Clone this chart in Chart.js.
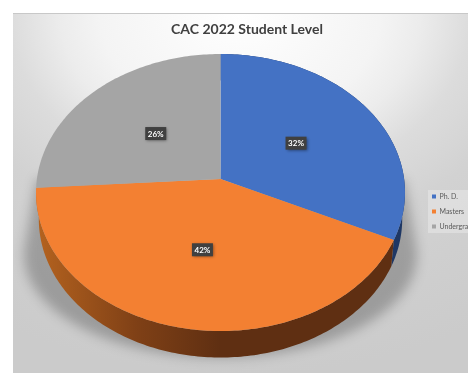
<!DOCTYPE html>
<html>
<head>
<meta charset="utf-8">
<title>CAC 2022 Student Level</title>
<script src="https://cdn.jsdelivr.net/npm/chart.js@4"></script>
<style>
  html, body { margin: 0; padding: 0; background: #fff; width: 468px; height: 373px; overflow: hidden; }
  #frame { position: absolute; left: 13px; top: 13px; width: 468px; height: 360px; }
  canvas { display: block; }
</style>
</head>
<body>
<div id="frame"><canvas id="chart" width="468" height="360"></canvas></div>
<script>
const categories = ['Ph. D.', 'Masters', 'Undergraduate'];
const shares = [32, 42, 26];
const sliceColors = ['#4472C4', '#F38032', '#A5A5A5'];
const titleText = 'CAC 2022 Student Level';

// Perspective view of the pie disc, in canvas coordinates.
const view = { cx: 207.5, cy: 166, rx: 183.6, ry: 137.2, tilt: 0.0975, depth: 26.5, inset: 0.985 };
const legendBox = { left: 415, top: 177, width: 60, height: 43 };

function project(angle, f) {
  const u = Math.cos(angle) * f, v = Math.sin(angle) * f;
  const w = 1 - view.tilt * v;
  return { x: view.cx + view.rx * u / w, y: view.cy + view.ry * v / w };
}
function lower(p) {
  return { x: view.cx + (p.x - view.cx) * view.inset, y: p.y + view.depth };
}
function rim(a0, a1) {
  const pts = [], n = Math.max(2, Math.ceil(Math.abs(a1 - a0) * 60));
  for (let i = 0; i <= n; i++) pts.push(project(a0 + (a1 - a0) * i / n, 1));
  return pts;
}
function trace(ctx, pts) {
  ctx.beginPath();
  pts.forEach((p, i) => i ? ctx.lineTo(p.x, p.y) : ctx.moveTo(p.x, p.y));
  ctx.closePath();
}

const backdrop = {
  id: 'backdrop',
  afterLayout(chart) {
    // Pull the legend into its panel at the right-hand edge.
    const l = chart.legend;
    const h = l.columnSizes[0].height;
    l.left = legendBox.left - 4;
    l.right = l.left + l.width;
    l.top = legendBox.top + legendBox.height / 2 - h / 2 - 5;
    l.bottom = l.top + h + 10;
  },
  beforeDraw(chart) {
    const { ctx, width } = chart;
    ctx.save();
    ctx.translate(227, 0);
    ctx.scale(1, 1 / 1.3);
    const R = 470;
    const g = ctx.createRadialGradient(0, 0, 0, 0, 0, R);
    g.addColorStop(0, '#ffffff');
    g.addColorStop(140 / R, '#f4f4f4');
    g.addColorStop(180 / R, '#ececec');
    g.addColorStop(230 / R, '#dcdcdc');
    g.addColorStop(300 / R, '#d2d2d2');
    g.addColorStop(1, '#cbcbcb');
    ctx.fillStyle = g;
    ctx.fillRect(-300, -10, 600, 520);
    ctx.restore();
    ctx.fillStyle = '#c8c8c8';
    ctx.fillRect(0, 0, width, 1);

    // Translucent panel behind the legend.
    ctx.fillStyle = 'rgba(255,255,255,0.28)';
    ctx.fillRect(legendBox.left, legendBox.top, legendBox.width, legendBox.height);
  }
};

const tiltedPie = {
  id: 'tiltedPie',
  beforeDatasetDraw(chart, args) {
    const { ctx } = chart;
    const arcs = args.meta.data;

    // Soft cast shadow under the disc.
    const front = rim(0, Math.PI);
    const shade = front.map(p => ({ x: view.cx + (p.x - view.cx) * 1.065, y: 109 + 0.741 * p.y }));
    ctx.save();
    ctx.filter = 'blur(6px)';
    ctx.fillStyle = 'rgba(0,0,0,0.24)';
    trace(ctx, [project(0, 1), ...shade, project(Math.PI, 1)]);
    ctx.fill();
    ctx.restore();

    // Side wall of each slice.
    arcs.forEach((arc, i) => {
      if (i === 2) return;
      const top = rim(arc.startAngle, arc.endAngle);
      let wall = '#1E3764';
      if (i === 1) {
        wall = ctx.createLinearGradient(view.cx - 185, 0, view.cx, 0);
        wall.addColorStop(0, '#B5631F');
        wall.addColorStop(0.55, '#7F4016');
        wall.addColorStop(1, '#5F2F12');
      }
      ctx.fillStyle = wall;
      trace(ctx, [...top, ...top.map(lower).reverse()]);
      ctx.fill();
    });

    // Top face of each slice.
    arcs.forEach((arc, i) => {
      ctx.fillStyle = sliceColors[i];
      trace(ctx, [project(0, 0), ...rim(arc.startAngle, arc.endAngle)]);
      ctx.fill();
    });
    return false;
  },
  afterDatasetsDraw(chart) {
    const { ctx } = chart;
    const total = shares.reduce((a, b) => a + b, 0);
    chart.getDatasetMeta(0).data.forEach((arc, i) => {
      const p = project((arc.startAngle + arc.endAngle) / 2, 0.5);
      const text = Math.round(shares[i] / total * 100) + '%';
      ctx.save();
      ctx.shadowColor = 'rgba(0,0,0,0.45)';
      ctx.shadowBlur = 3;
      ctx.shadowOffsetX = 1;
      ctx.shadowOffsetY = 1;
      ctx.fillStyle = '#404040';
      ctx.fillRect(p.x - 10.5, p.y - 6.5, 21, 13);
      ctx.restore();
      ctx.fillStyle = '#ffffff';
      ctx.font = 'bold 8px Lato, "Open Sans", sans-serif';
      ctx.textAlign = 'center';
      ctx.textBaseline = 'middle';
      ctx.fillText(text, p.x, p.y + 0.5);
    });
  }
};

new Chart(document.getElementById('chart'), {
  type: 'pie',
  plugins: [backdrop, tiltedPie],
  data: {
    labels: categories,
    datasets: [{ data: shares, backgroundColor: sliceColors, borderWidth: 0 }]
  },
  options: {
    responsive: false,
    animation: false,
    plugins: {
      tooltip: { enabled: false },
      title: {
        display: true,
        text: titleText,
        color: '#404040',
        font: { family: 'Lato, "Open Sans", sans-serif', size: 14, weight: 'bold' },
        padding: { top: 8, bottom: 8 }
      },
      legend: {
        position: 'right',
        labels: {
          color: '#595959',
          boxWidth: 4,
          boxHeight: 4,
          padding: 8,
          font: { family: 'Lato, "Open Sans", sans-serif', size: 7 }
        }
      }
    }
  }
});
</script>
</body>
</html>
